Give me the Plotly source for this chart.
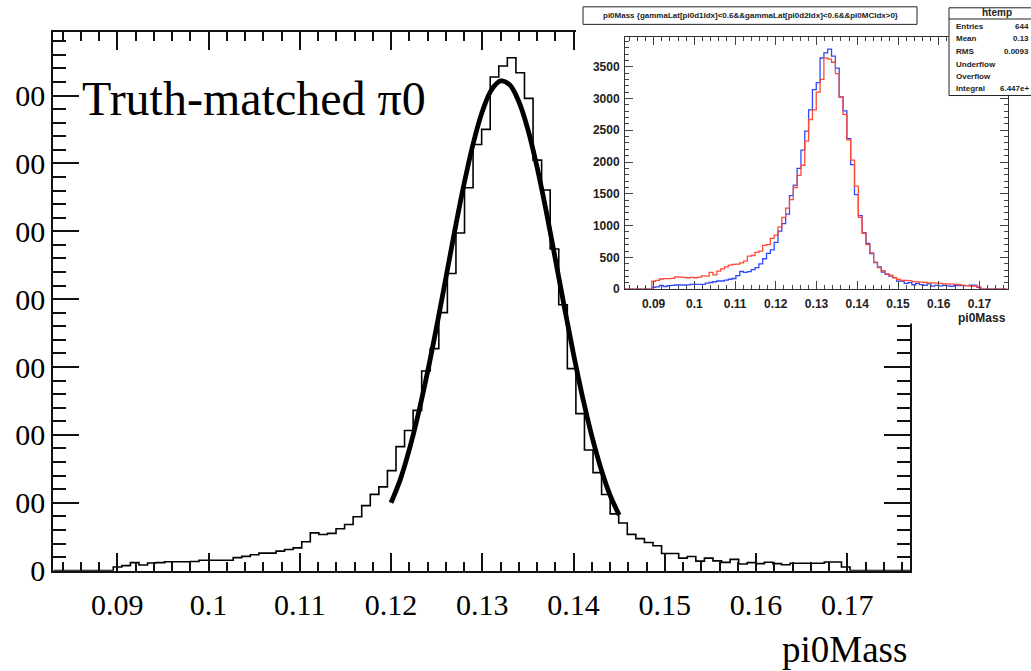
import numpy as np
import plotly.graph_objects as go

# ---------------- data ----------------
X_LO, X_HI = 0.08299, 0.17687          # htemp axis range (100 bins)
N_BINS = 100
FIRST_BIN = 7                           # first non-empty bin index

# truth-matched pi0 mass histogram (black in main plot, blue in inset)
truth_counts = [27, 37, 59, 42, 56, 59, 66, 66, 66, 68,
                77, 77, 77, 77, 96, 105, 117, 129, 129, 144,
                156, 168, 213, 278, 266, 275, 309, 340, 397, 479,
                562, 617, 737, 914, 1033, 1181, 1471, 1636, 1901, 2189,
                2488, 2821, 3139, 3251, 3637, 3718, 3778, 3668, 3479, 3024,
                2804, 2370, 1959, 1488, 1157, 889, 722, 561, 418, 351,
                267, 236, 207, 183, 126, 126, 92, 104, 70, 92,
                72, 61, 83, 49, 59, 52, 62, 52, 44, 55,
                55, 55, 55, 64, 64, 27]

# second histogram in inset (red)
red_counts = [125, 140, 160, 165, 165, 170, 195, 190, 185, 180,
              185, 180, 190, 210, 205, 265, 225, 285, 320, 350,
              380, 390, 395, 415, 440, 520, 530, 580, 600, 690,
              700, 800, 850, 980, 1130, 1275, 1410, 1600, 1790, 1950,
              2330, 2670, 2820, 3100, 3300, 3640, 3620, 3570, 3390, 3020,
              2750, 2350, 2030, 1620, 1130, 880, 700, 570, 425, 340,
              290, 240, 220, 180, 155, 140, 140, 135, 120, 115,
              110, 105, 100, 100, 95, 90, 85, 85, 80, 75,
              70, 60, 55, 50, 48, 35]

# Gaussian fit curve
fit_x = [0.120, 0.121, 0.122, 0.123, 0.124, 0.125, 0.126, 0.127, 0.128,
         0.129, 0.130, 0.131, 0.132, 0.133, 0.134, 0.135, 0.136, 0.137,
         0.138, 0.139, 0.140, 0.141, 0.142, 0.143, 0.144, 0.145]
fit_y = [500, 669, 892, 1158, 1463, 1799, 2153, 2511, 2848,
         3145, 3382, 3541, 3608, 3579, 3456, 3250, 2973, 2649,
         2297, 1939, 1594, 1275, 993, 753, 556, 410]

x_tickvals = [0.09, 0.10, 0.11, 0.12, 0.13, 0.14, 0.15, 0.16, 0.17]
x_ticktext = ["0.09", "0.1", "0.11", "0.12", "0.13", "0.14", "0.15", "0.16", "0.17"]
y_tickvals = [0, 500, 1000, 1500, 2000, 2500, 3000, 3500]
y_ticktext_main = ["0", "00", "00", "00", "00", "00", "00", "00"]
y_ticktext_inset = ["0", "500", "1000", "1500", "2000", "2500", "3000", "3500"]
Y_MAX = 3967

stats_labels = ["Entries", "Mean", "RMS", "Underflow", "Overflow", "Integral"]
stats_values = ["644", "0.13", "0.0093", "", "", "6.447e+"]
inset_title = "pi0Mass {gammaLat[pi0d1Idx]<0.6&&gammaLat[pi0d2Idx]<0.6&&pi0MCIdx>0}"

# ---------------- helpers ----------------
W, H = 1031, 671
bin_w = (X_HI - X_LO) / N_BINS
edges = X_LO + np.arange(N_BINS + 1) * bin_w


def step_y(counts):
    full = np.zeros(N_BINS)
    full[FIRST_BIN:FIRST_BIN + len(counts)] = counts
    return np.append(full, full[-1])


def px(xp):
    return xp / W


def py(yp):
    return 1 - yp / H


SERIF = "Liberation Serif"
SANS = "Liberation Sans"

fig = go.Figure()

# main plot
fig.add_trace(go.Scatter(x=edges, y=step_y(truth_counts), mode="lines",
                         line=dict(shape="hv", color="black", width=1.6),
                         xaxis="x", yaxis="y", hoverinfo="skip"))
fig.add_trace(go.Scatter(x=fit_x, y=fit_y, mode="lines",
                         line=dict(shape="spline", color="black", width=4.8),
                         xaxis="x", yaxis="y", hoverinfo="skip"))
# blank subplot acting as the white backing of the pasted inset picture
fig.add_trace(go.Scatter(x=[None], y=[None], mode="lines", xaxis="x2", yaxis="y2",
                         hoverinfo="skip"))
# inset
fig.add_trace(go.Scatter(x=edges, y=step_y(truth_counts), mode="lines",
                         line=dict(shape="hv", color="#2f48ff", width=1.3),
                         xaxis="x3", yaxis="y3", hoverinfo="skip"))
fig.add_trace(go.Scatter(x=edges, y=step_y(red_counts), mode="lines",
                         line=dict(shape="hv", color="#ff4a35", width=1.3),
                         xaxis="x3", yaxis="y3", hoverinfo="skip"))

main_l, main_r, main_t, main_b = 53.3, 910, 33, 585.5
ins_l, ins_r, ins_t, ins_b = 625, 1007.5, 38, 296.7
cover_l, cover_b = 576, 332

axis_common_main = dict(showgrid=False, zeroline=False, showline=True,
                        linecolor="#111", linewidth=2, mirror="ticks",
                        ticks="inside", tickcolor="#111", tickwidth=1.5,
                        tickfont=dict(family=SERIF, size=30, color="black"))
hidden = dict(visible=False, showgrid=False, zeroline=False, showline=False,
              range=[0, 1], fixedrange=True)
inset_font = dict(family=SANS, size=12, color="#222", weight="bold")

fig.update_layout(
    width=W, height=H, margin=dict(l=0, r=0, t=0, b=0),
    paper_bgcolor="white", plot_bgcolor="white", showlegend=False,
    xaxis=dict(domain=[px(main_l), px(main_r)], range=[X_LO, X_HI], anchor="y",
               tickmode="array", tickvals=x_tickvals, ticktext=x_ticktext,
               ticklen=18, ticklabelstandoff=6,
               minor=dict(tickmode="linear", tick0=0.09, dtick=0.002, ticks="inside",
                          ticklen=9, tickcolor="#111", tickwidth=1.5),
               **axis_common_main),
    yaxis=dict(domain=[py(main_b), py(main_t)], range=[0, Y_MAX], anchor="x",
               tickmode="array", tickvals=y_tickvals, ticktext=y_ticktext_main,
               ticklen=26, ticklabelstandoff=0,
               minor=dict(tickmode="linear", tick0=0, dtick=100, ticks="inside",
                          ticklen=13, tickcolor="#111", tickwidth=1.5),
               **axis_common_main),
    xaxis2=dict(domain=[px(cover_l), 1], anchor="y2", **hidden),
    yaxis2=dict(domain=[py(cover_b), 1], anchor="x2", **hidden),
    xaxis3=dict(domain=[px(ins_l), px(ins_r)], range=[X_LO, X_HI], anchor="y3",
                tickmode="array", tickvals=x_tickvals, ticktext=x_ticktext,
                ticks="inside", ticklen=8, tickcolor="#444", tickwidth=1,
                minor=dict(tickmode="linear", tick0=0.09, dtick=0.002, ticks="inside",
                           ticklen=4, tickcolor="#444", tickwidth=1),
                showline=True, linecolor="#333", linewidth=1, mirror="ticks",
                showgrid=False, zeroline=False, ticklabelstandoff=3,
                tickfont=inset_font),
    yaxis3=dict(domain=[py(ins_b), py(ins_t)], range=[0, Y_MAX], anchor="x3",
                tickmode="array", tickvals=y_tickvals, ticktext=y_ticktext_inset,
                ticks="inside", ticklen=8, tickcolor="#444", tickwidth=1,
                minor=dict(tickmode="linear", tick0=0, dtick=100, ticks="inside",
                           ticklen=4, tickcolor="#444", tickwidth=1),
                showline=True, linecolor="#333", linewidth=1, mirror="ticks",
                showgrid=False, zeroline=False, ticklabelstandoff=2,
                tickfont=inset_font),
)

shapes = []
# inset title box
shapes.append(dict(type="rect", xref="paper", yref="paper", layer="above",
                   x0=px(583), x1=px(917), y0=py(25), y1=py(7),
                   fillcolor="white", line=dict(color="#222", width=1)))
# stats box
shapes.append(dict(type="rect", xref="paper", yref="paper", layer="above",
                   x0=px(949), x1=px(1045), y0=py(98), y1=py(8),
                   fillcolor="white", line=dict(color="#222", width=1)))
shapes.append(dict(type="line", xref="paper", yref="paper", layer="above",
                   x0=px(949), x1=px(1045), y0=py(19.5), y1=py(19.5),
                   line=dict(color="#222", width=1)))
fig.update_layout(shapes=shapes)

ann = []
ann.append(dict(text="Truth-matched \u03c00", x=px(80), y=py(101), xref="paper", yref="paper",
                xanchor="left", yanchor="middle", showarrow=False,
                font=dict(family=SERIF, size=48, color="black")))
ann.append(dict(text="pi0Mass", x=px(909), y=py(666), xref="paper", yref="paper",
                xanchor="right", yanchor="middle", showarrow=False,
                font=dict(family=SERIF, size=37, color="black")))
ann.append(dict(text="pi0Mass", x=px(1008), y=py(326), xref="paper", yref="paper",
                xanchor="right", yanchor="middle", showarrow=False,
                font=inset_font))
ann.append(dict(text=inset_title, x=px(750), y=py(16), xref="paper", yref="paper",
                xanchor="center", yanchor="middle", showarrow=False,
                font=dict(family=SANS, size=8, color="#222", weight="bold")))
ann.append(dict(text="htemp", x=px(997), y=py(13), xref="paper", yref="paper",
                xanchor="center", yanchor="middle", showarrow=False,
                font=dict(family=SANS, size=10, color="#222", weight="bold")))
row_y = [27, 40, 53, 66, 79, 91]
for lab, val, ry in zip(stats_labels, stats_values, row_y):
    ann.append(dict(text=lab, x=px(954), y=py(ry), xref="paper", yref="paper",
                    xanchor="left", yanchor="middle", showarrow=False,
                    font=dict(family=SANS, size=8, color="#222", weight="bold")))
    if val:
        ann.append(dict(text=val, x=px(1031), y=py(ry), xref="paper", yref="paper",
                        xanchor="right", yanchor="middle", showarrow=False,
                        font=dict(family=SANS, size=8, color="#222", weight="bold")))
fig.update_layout(annotations=ann)

fig.write_html("out.html")
